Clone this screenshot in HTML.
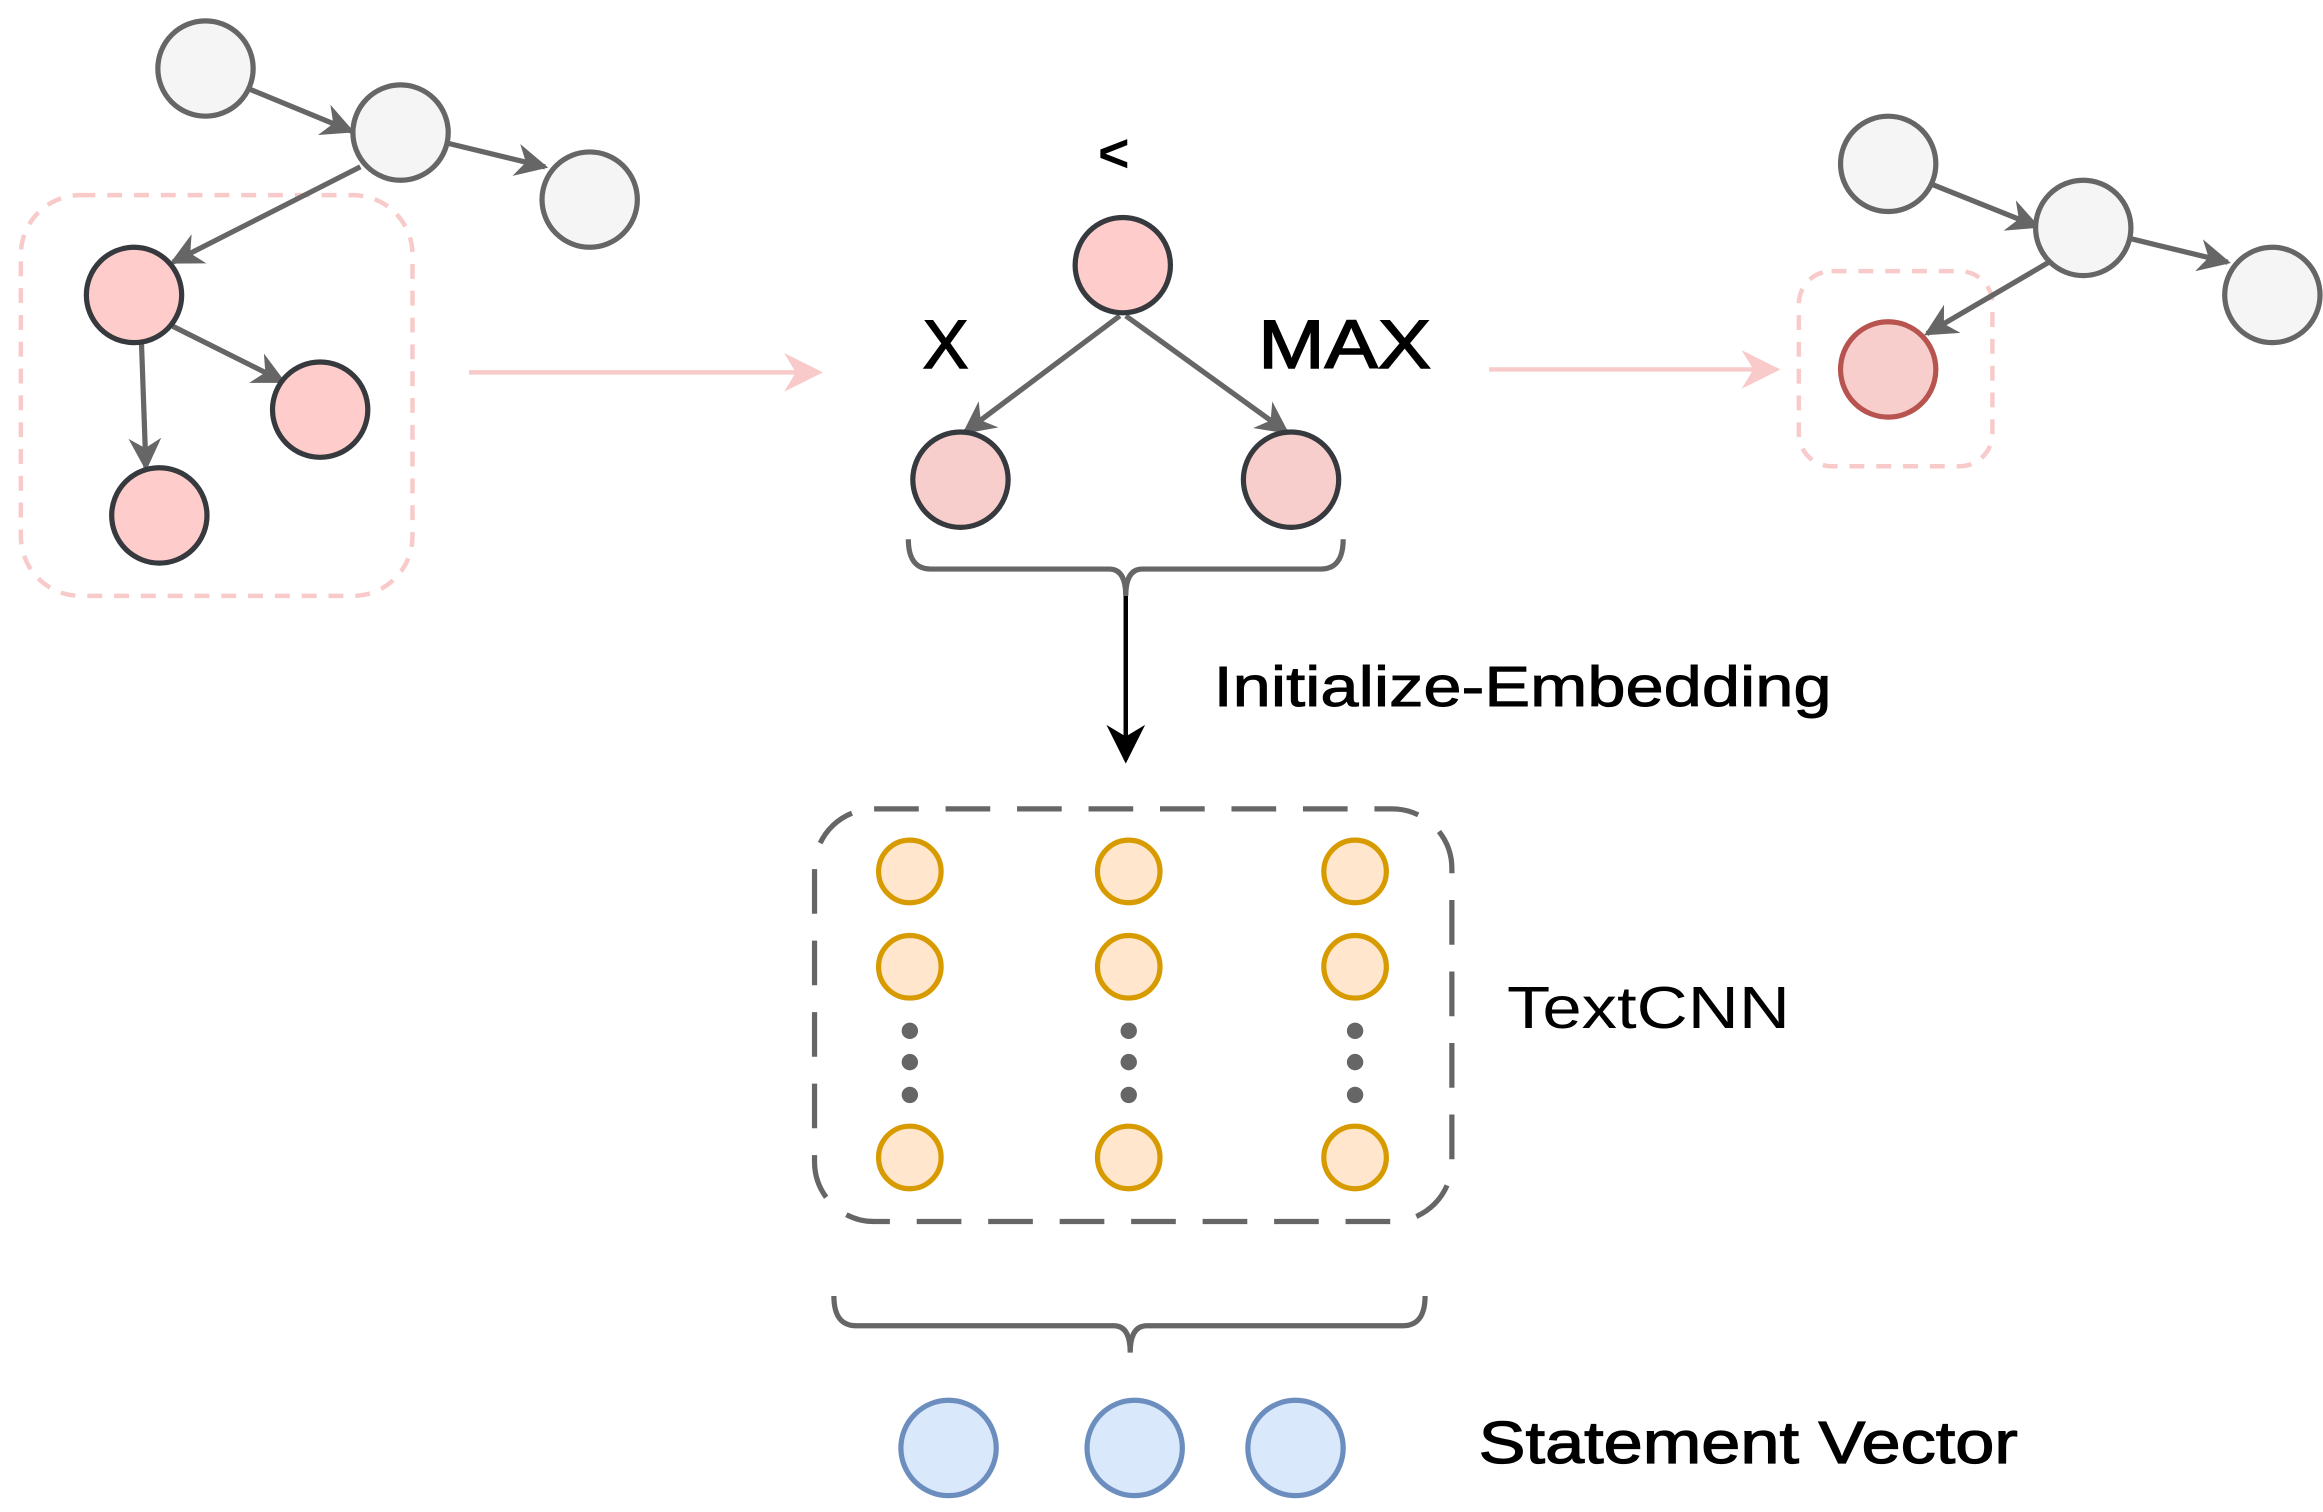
<!DOCTYPE html>
<html><head><meta charset="utf-8"><style>
html,body{margin:0;padding:0;background:#fff;width:2323px;height:1512px;overflow:hidden}
svg{display:block}
text{font-family:"Liberation Sans",sans-serif}
</style></head><body>
<svg width="2323" height="1512" viewBox="0 0 1560 1015" preserveAspectRatio="none" xmlns="http://www.w3.org/2000/svg">
<defs>
<marker id="agb" viewBox="0 0 10 10" refX="9" refY="5" markerWidth="22" markerHeight="22" orient="auto" markerUnits="userSpaceOnUse"><path d="M0,0 L10,5 L0,10 L3,5 z" fill="#666"/></marker>
<marker id="ap" viewBox="0 0 10 10" refX="9" refY="5" markerWidth="26" markerHeight="26" orient="auto" markerUnits="userSpaceOnUse"><path d="M0,0 L10,5 L0,10 L3,5 z" fill="#f8caca"/></marker>
<marker id="ak" viewBox="0 0 10 10" refX="9" refY="5" markerWidth="26" markerHeight="26" orient="auto" markerUnits="userSpaceOnUse"><path d="M0,0 L10,5 L0,10 L3,5 z" fill="#000"/></marker>
</defs>
<rect x="14" y="131" width="263" height="269" rx="40" fill="none" stroke="#f8caca" stroke-width="3" stroke-dasharray="10,8"/>
<g stroke="#666" stroke-width="3.5" marker-end="url(#agb)">
<line x1="168" y1="60" x2="236" y2="88"/>
<line x1="300" y1="96" x2="366" y2="112"/>
<line x1="242" y1="112" x2="116" y2="176"/>
<line x1="116" y1="219" x2="190" y2="256"/>
<line x1="95" y1="230" x2="98" y2="314"/>
</g>
<g stroke="#666" stroke-width="3.5" fill="#f5f5f5">
<circle cx="138" cy="46" r="32"/><circle cx="269" cy="89" r="32"/><circle cx="396" cy="134" r="32"/>
</g>
<g stroke="#36393d" stroke-width="3.5" fill="#ffcccc">
<circle cx="90" cy="198" r="32"/><circle cx="215" cy="275" r="32"/><circle cx="107" cy="346" r="32"/>
</g>
<line x1="315" y1="250" x2="550" y2="250" stroke="#f8caca" stroke-width="3" marker-end="url(#ap)"/>
<text x="748" y="115" font-size="36" font-weight="bold" text-anchor="middle">&lt;</text>
<text x="635" y="247" font-size="46" stroke="#000" stroke-width="1" text-anchor="middle">X</text>
<text x="903" y="247" font-size="46" stroke="#000" stroke-width="1" text-anchor="middle" textLength="116" lengthAdjust="spacingAndGlyphs">MAX</text>
<g stroke="#666" stroke-width="3.5" marker-end="url(#agb)">
<line x1="752" y1="212" x2="648" y2="290"/>
<line x1="756" y1="212" x2="864" y2="290"/>
</g>
<circle cx="754" cy="178" r="32" fill="#ffcccc" stroke="#36393d" stroke-width="3.5"/>
<circle cx="645" cy="322" r="32" fill="#f8cecc" stroke="#36393d" stroke-width="3.5"/>
<circle cx="867" cy="322" r="32" fill="#f8cecc" stroke="#36393d" stroke-width="3.5"/>
<path d="M610,362 Q610,382 625,382 L745,382 Q756,382 756,400 Q756,382 767,382 L887,382 Q902,382 902,362" fill="none" stroke="#666" stroke-width="3.5"/>
<line x1="756" y1="400" x2="756" y2="510" stroke="#000" stroke-width="3" marker-end="url(#ak)"/>
<text x="815" y="474" font-size="38" stroke="#000" stroke-width="0.6" textLength="415" lengthAdjust="spacingAndGlyphs">Initialize-Embedding</text>
<line x1="1000" y1="248" x2="1193" y2="248" stroke="#f8caca" stroke-width="3" marker-end="url(#ap)"/>
<rect x="1208" y="182" width="130" height="131" rx="22" fill="none" stroke="#f8caca" stroke-width="3" stroke-dasharray="10,8"/>
<g stroke="#666" stroke-width="3.5" marker-end="url(#agb)">
<line x1="1298" y1="124" x2="1368" y2="152"/>
<line x1="1430" y1="160" x2="1496" y2="176"/>
<line x1="1376" y1="176" x2="1294" y2="224"/>
</g>
<g stroke="#666" stroke-width="3.5" fill="#f5f5f5">
<circle cx="1268" cy="110" r="32"/><circle cx="1399" cy="153" r="32"/><circle cx="1526" cy="198" r="32"/>
</g>
<circle cx="1268" cy="248" r="32" fill="#f8cecc" stroke="#b85450" stroke-width="3.5"/>
<rect x="547" y="543" width="428" height="277" rx="40" fill="none" stroke="#666" stroke-width="3.5" stroke-dasharray="30,18"/>
<g fill="#ffe6cc" stroke="#d79b00" stroke-width="3.5">
<circle cx="611" cy="585" r="21"/><circle cx="758" cy="585" r="21"/><circle cx="910" cy="585" r="21"/>
<circle cx="611" cy="649" r="21"/><circle cx="758" cy="649" r="21"/><circle cx="910" cy="649" r="21"/>
<circle cx="611" cy="777" r="21"/><circle cx="758" cy="777" r="21"/><circle cx="910" cy="777" r="21"/>
</g>
<g fill="#666">
<circle cx="611" cy="692" r="5.5"/><circle cx="611" cy="713" r="5.5"/><circle cx="611" cy="735" r="5.5"/>
<circle cx="758" cy="692" r="5.5"/><circle cx="758" cy="713" r="5.5"/><circle cx="758" cy="735" r="5.5"/>
<circle cx="910" cy="692" r="5.5"/><circle cx="910" cy="713" r="5.5"/><circle cx="910" cy="735" r="5.5"/>
</g>
<text x="1012" y="690" font-size="40" textLength="190" lengthAdjust="spacingAndGlyphs">TextCNN</text>
<path d="M560,870 Q560,890 575,890 L748,890 Q759,890 759,908 Q759,890 770,890 L942,890 Q957,890 957,870" fill="none" stroke="#666" stroke-width="3.5"/>
<g fill="#dae8fc" stroke="#6c8ebf" stroke-width="3.5">
<circle cx="637" cy="972" r="32"/><circle cx="762" cy="972" r="32"/><circle cx="870" cy="972" r="32"/>
</g>
<text x="993" y="982" font-size="40" stroke="#000" stroke-width="0.8" textLength="362" lengthAdjust="spacingAndGlyphs">Statement Vector</text>
</svg>
</body></html>
